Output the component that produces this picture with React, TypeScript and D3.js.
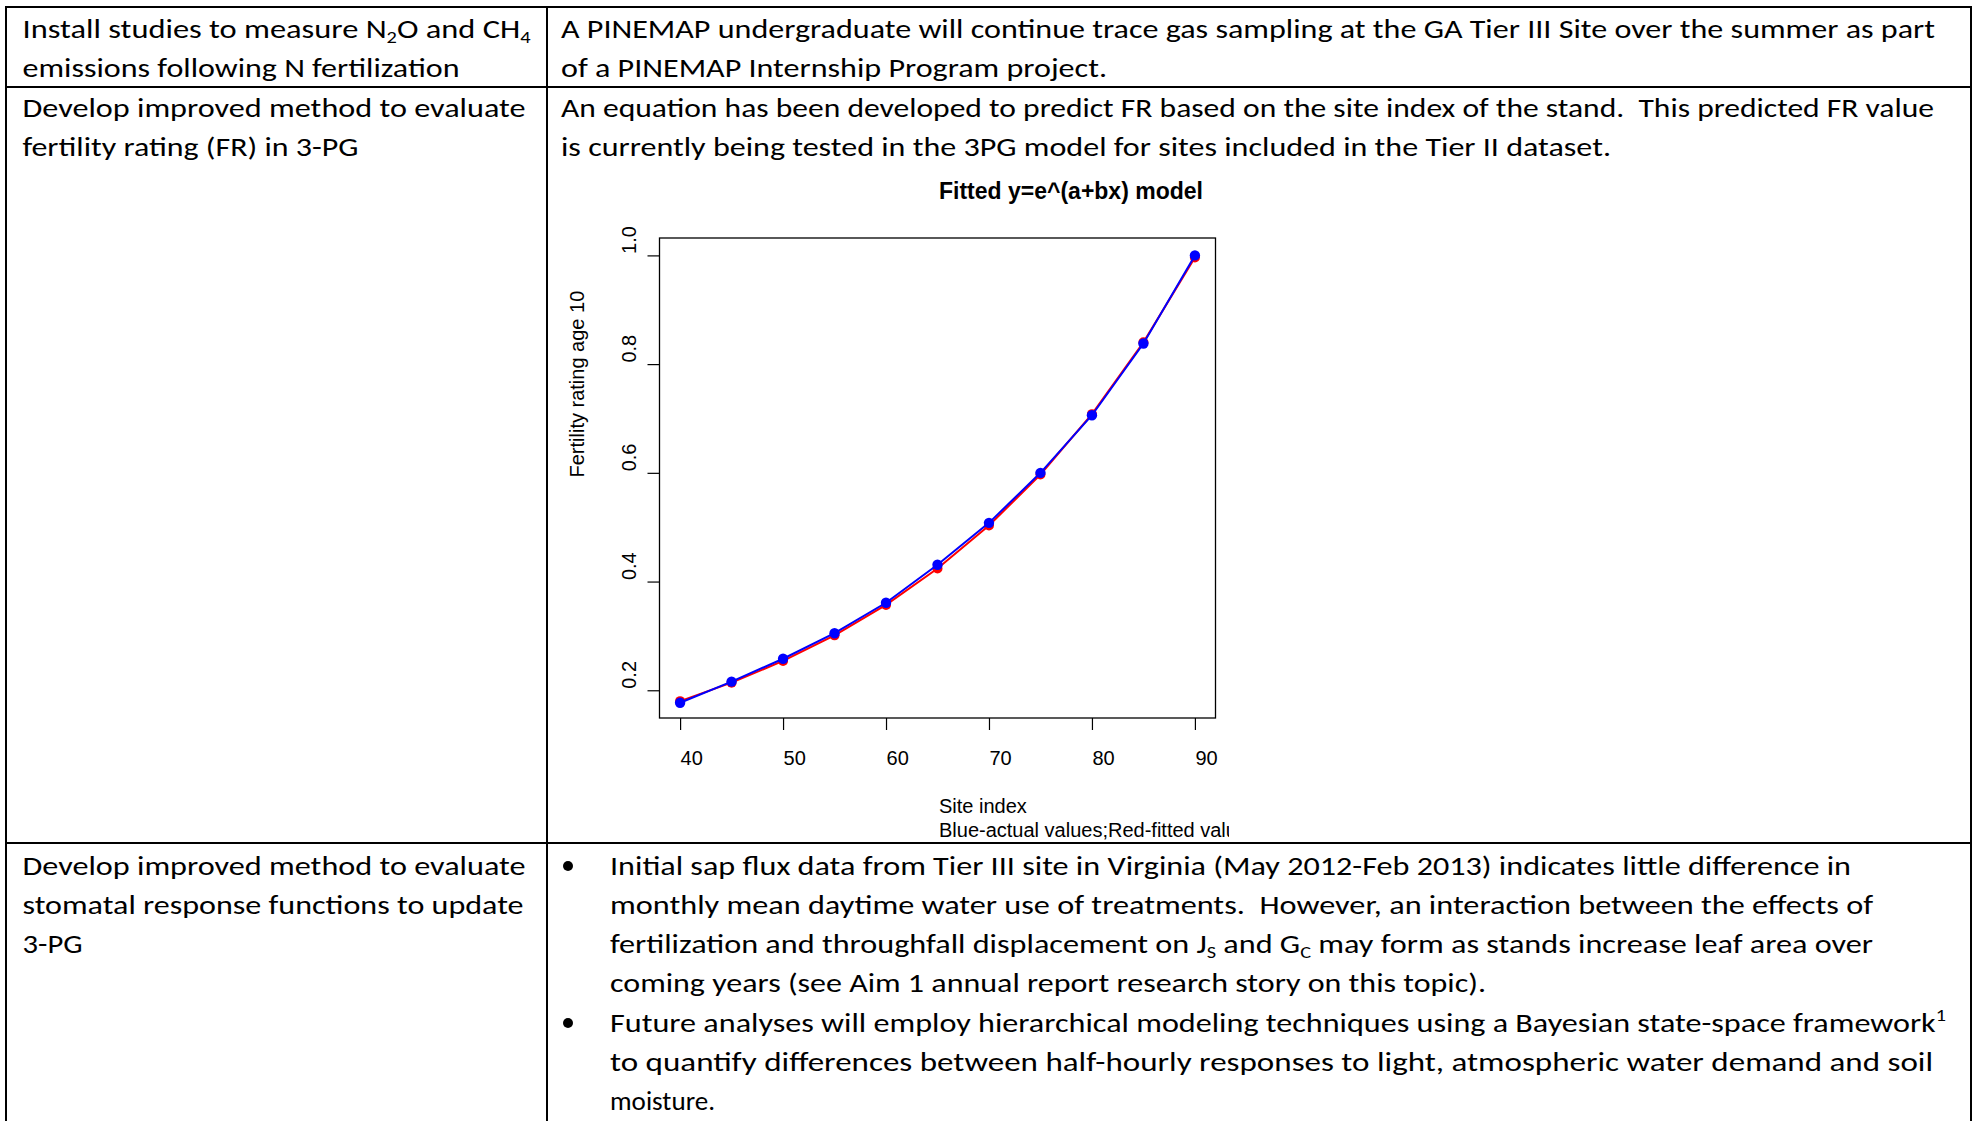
import * as d3 from "d3";
import React, { useEffect, useRef } from "react";

// data
const siteIndex = [40, 45, 50, 55, 60, 65, 70, 75, 80, 85, 90];
const actualFR = [0.177, 0.216, 0.258, 0.305, 0.361, 0.431, 0.508, 0.6, 0.706, 0.838, 1.0];
const fittedFR = [0.18, 0.214, 0.254, 0.301, 0.357, 0.424, 0.503, 0.597, 0.708, 0.84, 0.996];
const xTicks = [40, 50, 60, 70, 80, 90];
const yTicks = [0.2, 0.4, 0.6, 0.8, 1.0];

const chartTitle = "Fitted y=e^(a+bx) model";
const xLabel = "Site index";
const subLabel = "Blue-actual values;Red-fitted values";
const yLabel = "Fertility rating age 10";

// table text: [text, "sub" | "sup" | undefined]
type Seg = [string, string?];
type Line = { x: number; y: number; w: number; segs: Seg[] };

const col1 = 22.5;
const col2 = 561;
const col2b = 610;

const tableLines: Line[] = [
  { x: col1, y: 38, w: 508, segs: [["Install studies to measure N"], ["2", "sub"], ["O and CH"], ["4", "sub"]] },
  { x: col1, y: 77, w: 437, segs: [["emissions following N fertilization"]] },
  { x: col2, y: 38, w: 1374, segs: [["A PINEMAP undergraduate will continue trace gas sampling at the GA Tier III Site over the summer as part"]] },
  { x: col2, y: 77, w: 546, segs: [["of a PINEMAP Internship Program project."]] },
  { x: col1, y: 117, w: 503, segs: [["Develop improved method to evaluate"]] },
  { x: col1, y: 156, w: 336, segs: [["fertility rating (FR) in 3-PG"]] },
  { x: col2, y: 117, w: 1373, segs: [["An equation has been developed to predict FR based on the site index of the stand.  This predicted FR value"]] },
  { x: col2, y: 156, w: 1050, segs: [["is currently being tested in the 3PG model for sites included in the Tier II dataset."]] },
  { x: col1, y: 875, w: 503, segs: [["Develop improved method to evaluate"]] },
  { x: col1, y: 914, w: 501, segs: [["stomatal response functions to update"]] },
  { x: col1, y: 953, w: 60, segs: [["3-PG"]] },
  { x: col2b, y: 875, w: 1241, segs: [["Initial sap flux data from Tier III site in Virginia (May 2012-Feb 2013) indicates little difference in"]] },
  { x: col2b, y: 914, w: 1263, segs: [["monthly mean daytime water use of treatments.  However, an interaction between the effects of"]] },
  { x: col2b, y: 953, w: 1263, segs: [["fertilization and throughfall displacement on J"], ["S", "sub"], [" and G"], ["C", "sub"], [" may form as stands increase leaf area over"]] },
  { x: col2b, y: 992, w: 876, segs: [["coming years (see Aim 1 annual report research story on this topic)."]] },
  { x: col2b, y: 1032, w: 1336, segs: [["Future analyses will employ hierarchical modeling techniques using a Bayesian state-space framework"], ["1", "sup"]] },
  { x: col2b, y: 1071, w: 1323, segs: [["to quantify differences between half-hourly responses to light, atmospheric water demand and soil"]] },
  { x: col2b, y: 1110, w: 105, segs: [["moisture."]] },
];
const bulletRows = [875, 1032];

const W = 1981;
const H = 1121;

const Chart = () => {
  const gRef = useRef<SVGGElement>(null);

  useEffect(() => {
    const left = 659.5, right = 1215.5, top = 238, bottom = 718;
    const x = d3.scaleLinear().domain([38, 92]).range([left, right]);
    const y = d3.scaleLinear().domain([0.149, 1.032]).range([bottom, top]);
    const font = "Liberation Sans, Arial, sans-serif";

    const g = d3.select(gRef.current);
    g.selectAll("*").remove();

    g.append("rect")
      .attr("x", left).attr("y", top)
      .attr("width", right - left).attr("height", bottom - top)
      .attr("fill", "none").attr("stroke", "#000").attr("stroke-width", 1.3);

    // labels in the source are start-anchored at the tick
    const xAxis = d3.axisBottom(x).tickValues(xTicks).tickSize(12).tickSizeOuter(0);
    const gx = g.append("g").attr("transform", `translate(0,${bottom})`).call(xAxis);
    gx.select(".domain").remove();
    gx.selectAll("line").attr("stroke", "#000").attr("stroke-width", 1.2);
    gx.selectAll("text")
      .attr("font-family", font)
      .attr("font-size", 20).attr("fill", "#000")
      .attr("x", 0).attr("y", 47).attr("dy", 0)
      .attr("text-anchor", "start");

    const yAxis = d3.axisLeft(y).tickValues(yTicks).tickSize(12).tickSizeOuter(0).tickFormat(d3.format(".1f"));
    const gy = g.append("g").attr("transform", `translate(${left},0)`).call(yAxis);
    gy.select(".domain").remove();
    gy.selectAll("line").attr("stroke", "#000").attr("stroke-width", 1.2);
    gy.selectAll(".tick text")
      .attr("font-family", font)
      .attr("font-size", 20).attr("fill", "#000")
      .attr("x", 2).attr("y", 0).attr("dy", 0)
      .attr("text-anchor", "start")
      .attr("transform", "translate(-24,0) rotate(-90)");

    const fitted = siteIndex.map((s, i) => [s, fittedFR[i]] as [number, number]);
    const actual = siteIndex.map((s, i) => [s, actualFR[i]] as [number, number]);
    const line = d3.line<[number, number]>().x(d => x(d[0])).y(d => y(d[1]));

    g.append("path").datum(fitted).attr("d", line)
      .attr("fill", "none").attr("stroke", "#ff0000").attr("stroke-width", 2);
    g.selectAll(".pf").data(fitted).enter().append("circle")
      .attr("cx", d => x(d[0])).attr("cy", d => y(d[1])).attr("r", 5).attr("fill", "#ff0000");

    g.append("path").datum(actual).attr("d", line)
      .attr("fill", "none").attr("stroke", "#0000ff").attr("stroke-width", 2);
    g.selectAll(".pa").data(actual).enter().append("circle")
      .attr("cx", d => x(d[0])).attr("cy", d => y(d[1])).attr("r", 5.2).attr("fill", "#0000ff");

    g.append("text").attr("x", 939).attr("y", 199).attr("font-family", font)
      .attr("font-weight", "bold").attr("font-size", 23).text(chartTitle);
    g.append("text").attr("x", 939).attr("y", 813).attr("font-family", font)
      .attr("font-size", 20).text(xLabel);
    g.append("text").attr("x", 939).attr("y", 837).attr("font-family", font)
      .attr("font-size", 20).attr("clip-path", "url(#subclip)").text(subLabel);
    g.append("text").attr("transform", `translate(584,477.5) rotate(-90)`)
      .attr("font-family", font).attr("font-size", 20).text(yLabel);
  }, []);

  return <g ref={gRef} />;
};

const App = () => {
  const tableFont = "Calibri, Carlito, 'Open Sans', sans-serif";
  return (
    <svg width={W} height={H} style={{ position: "absolute", left: 0, top: 0 }}>
      <defs>
        <clipPath id="subclip">
          <rect x={900} y={810} width={329} height={40} />
        </clipPath>
      </defs>
      <rect width={W} height={H} fill="#fff" />

      {/* table grid */}
      <g stroke="#000" strokeWidth={2}>
        <line x1={6} y1={7} x2={1971} y2={7} />
        <line x1={6} y1={87} x2={1971} y2={87} />
        <line x1={6} y1={843} x2={1971} y2={843} />
        <line x1={6} y1={6} x2={6} y2={H} />
        <line x1={1971} y1={6} x2={1971} y2={H} />
        <line x1={547} y1={6} x2={547} y2={H} />
      </g>

      {tableLines.map((ln, i) => (
        <text key={i} x={ln.x} y={ln.y} fontFamily={tableFont} fontSize={27} fill="#000"
          textLength={ln.w} lengthAdjust="spacingAndGlyphs" style={{ whiteSpace: "pre" }}>
          {ln.segs.map((s, j) => {
            const prev = j > 0 ? ln.segs[j - 1][1] : undefined;
            let dy = 0;
            if (s[1] === "sub") dy = 5;
            else if (s[1] === "sup") dy = -11;
            if (prev === "sub") dy -= 5;
            if (prev === "sup") dy += 11;
            return (
              <tspan key={j} dy={dy} fontSize={s[1] ? 17 : 27}>{s[0]}</tspan>
            );
          })}
        </text>
      ))}
      {bulletRows.map(b => (
        <circle key={b} cx={568} cy={b - 9} r={5} fill="#000" />
      ))}

      <Chart />
    </svg>
  );
};

export default App;
